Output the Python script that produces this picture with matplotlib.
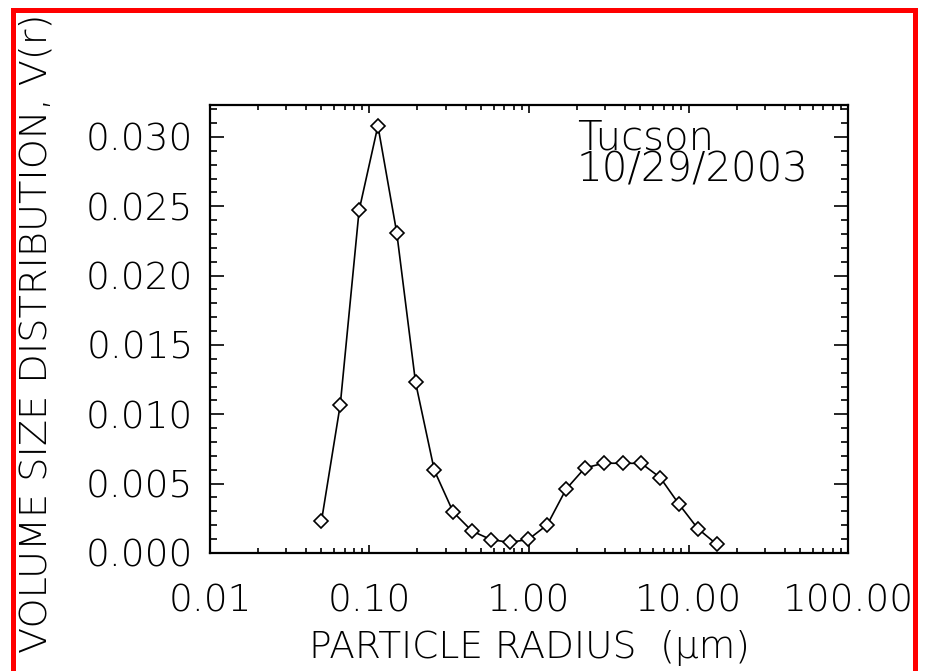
import matplotlib
matplotlib.use("Agg")
import matplotlib.pyplot as plt
from matplotlib.ticker import MultipleLocator, LogLocator, FormatStrFormatter, NullFormatter
from matplotlib.patches import Rectangle

# AERONET radius bins (um) and volume size distribution
radius = [0.050000, 0.065604, 0.086077, 0.112939, 0.148184, 0.194429,
          0.255105, 0.334716, 0.439173, 0.576227, 0.756052, 0.991996,
          1.301571, 1.707757, 2.240702, 2.939966, 3.857452, 5.061260,
          6.640745, 8.713145, 11.432287, 15.000000]
volume = [0.00230, 0.01070, 0.02470, 0.03080, 0.02310, 0.01230,
          0.00595, 0.00295, 0.00158, 0.00097, 0.00076, 0.00098,
          0.00203, 0.00460, 0.00613, 0.00647, 0.00647, 0.00646,
          0.00544, 0.00352, 0.00176, 0.00063]
site = "Tucson"
date = "10/29/2003"

plt.rcParams['font.family'] = ['DejaVu Sans']
plt.rcParams['font.weight'] = 'light'   # picks DejaVuSans-ExtraLight
plt.rcParams['axes.labelweight'] = 'light'

fig = plt.figure(figsize=(9.27, 6.71), dpi=100)
ax = fig.add_axes([0.2265, 0.1759, 0.6883, 0.6676])

ax.plot(radius, volume, color='black', lw=1.2, marker='D', ms=7.5,
        mfc='white', mec='black', mew=1.2)

ax.set_xscale('log')
ax.set_xlim(0.01, 100)
ax.set_ylim(0, 0.0323)

ax.xaxis.set_major_locator(LogLocator(base=10, numticks=10))
ax.xaxis.set_minor_locator(LogLocator(base=10, subs=range(2, 10), numticks=50))
ax.xaxis.set_major_formatter(FormatStrFormatter('%.2f'))
ax.xaxis.set_minor_formatter(NullFormatter())
ax.yaxis.set_major_locator(MultipleLocator(0.005))
ax.yaxis.set_minor_locator(MultipleLocator(0.001))
ax.yaxis.set_major_formatter(FormatStrFormatter('%.3f'))

ax.tick_params(axis='both', which='both', direction='in', top=True, right=True,
               color='black', width=1.2)
ax.tick_params(axis='x', which='major', length=6, labelsize=27, pad=22)
ax.tick_params(axis='x', which='minor', length=3.5)
ax.tick_params(axis='y', which='major', length=10, labelsize=27, pad=12)
ax.tick_params(axis='y', which='minor', length=5)
for s in ax.spines.values():
    s.set_linewidth(1.6)

ax.set_xlabel('PARTICLE RADIUS  (\u03bcm)', fontsize=27, fontweight='light')
ax.xaxis.set_label_coords(0.5, -0.172)
ax.xaxis.label.set_va('top')
ax.set_ylabel('VOLUME SIZE DISTRIBUTION, V(r)', fontsize=27.5, fontweight='light')
ax.yaxis.set_label_coords(-0.273, 0.49)
ax.yaxis.label.set_va('center')

ax.text(0.575, 0.97, site + '\n' + date, transform=ax.transAxes,
        fontsize=29, va='top', ha='left', linespacing=0.78)

# red frame around the panel (bottom edge lies outside the image)
fig.patches.append(Rectangle((12.5 / 927, -0.05), (915 - 12.5) / 927, 1.05 - 10 / 671,
                             transform=fig.transFigure, fill=False,
                             edgecolor='#ff0000', lw=3.6, clip_on=False))

fig.savefig('out.png', dpi=100)
